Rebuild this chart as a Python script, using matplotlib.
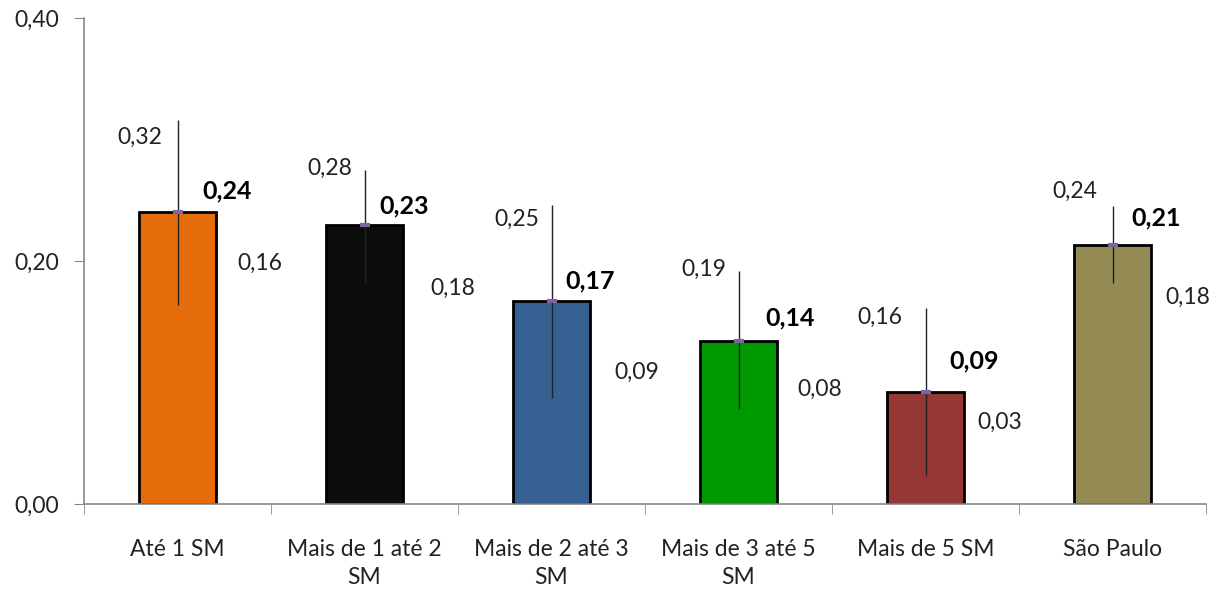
import numpy as np
import matplotlib.pyplot as plt

categories = ['Até 1 SM', 'Mais de 1 até 2\nSM', 'Mais de 2 até 3\nSM',
              'Mais de 3 até 5\nSM', 'Mais de 5 SM', 'São Paulo']
means = [0.24, 0.23, 0.17, 0.14, 0.09, 0.21]
upper = [0.32, 0.28, 0.25, 0.19, 0.16, 0.24]
lower = [0.16, 0.18, 0.09, 0.08, 0.03, 0.18]
# bar heights / error ends as drawn (labels are rounded)
mean_drawn = [0.240, 0.230, 0.167, 0.134, 0.092, 0.213]
upper_drawn = [0.316, 0.275, 0.246, 0.192, 0.161, 0.245]
lower_drawn = [0.164, 0.183, 0.087, 0.078, 0.024, 0.182]
colors = ['#E46C0A', '#0D0D0D', '#376092', '#009900', '#953735', '#948A54']
yticks = [0.0, 0.2, 0.4]

def fmt(v):
    return f'{v:.2f}'.replace('.', ',')

plt.rcParams['font.family'] = ['Lato', 'DejaVu Sans']
fig = plt.figure(figsize=(12.24, 5.94), dpi=100)
W, H = 1224, 594
ax = fig.add_axes([84 / W, (H - 504) / H, (1206 - 84) / W, (504 - 18) / H])

x = np.arange(len(categories))
m = np.array(mean_drawn)
ax.bar(x, m, width=0.41, color=colors, edgecolor='black', linewidth=2, zorder=2)
ax.errorbar(x, m, yerr=[m - np.array(lower_drawn), np.array(upper_drawn) - m],
            fmt='none', ecolor='#222222', elinewidth=1, capsize=0, zorder=3)
ax.plot(x, m, ls='none', marker='_', ms=7, mew=3, color='#8064A2', zorder=4)

# label offsets in pixels (Excel placement)
up_off = [(-38, -17), (-35, 2), (-35, -14), (-35, 1), (-46, -9), (-38, 15)]
mean_off = [(50, 21), (40, 19), (39, 20), (52, 23), (49, 31), (44, 27)]
low_off = [(82, 41), (88, -7), (85, 26), (81, 20), (74, 52), (75, -14)]
for i in range(len(categories)):
    ax.annotate(fmt(upper[i]), (x[i], upper_drawn[i]), xytext=up_off[i],
                textcoords='offset pixels', ha='center', va='center',
                fontsize=16.5, color='#222222')
    ax.annotate(fmt(means[i]), (x[i], mean_drawn[i]), xytext=mean_off[i],
                textcoords='offset pixels', ha='center', va='center',
                fontsize=18, fontweight='bold', color='black')
    ax.annotate(fmt(lower[i]), (x[i], lower_drawn[i]), xytext=low_off[i],
                textcoords='offset pixels', ha='center', va='center',
                fontsize=16.5, color='#222222')

ax.set_xlim(-0.5, len(categories) - 0.5)
ax.set_ylim(0, 0.40)
ax.set_yticks(yticks)
ax.set_yticklabels([fmt(v) for v in yticks], fontsize=16.5, color='#222222')
ax.set_xticks(x)
ax.set_xticklabels(categories, fontsize=16.5, color='#222222', linespacing=1.45)
ax.set_xticks(np.arange(len(categories) + 1) - 0.5, minor=True)
ax.tick_params(axis='x', which='major', length=0, pad=25)
ax.tick_params(axis='x', which='minor', length=7, color='#888888')
ax.tick_params(axis='y', length=7, color='#888888', pad=11)

for s in ['top', 'right']:
    ax.spines[s].set_visible(False)
for s in ['left', 'bottom']:
    ax.spines[s].set_color('#888888')
    ax.spines[s].set_linewidth(1.2)

fig.savefig('out.png', dpi=100)
